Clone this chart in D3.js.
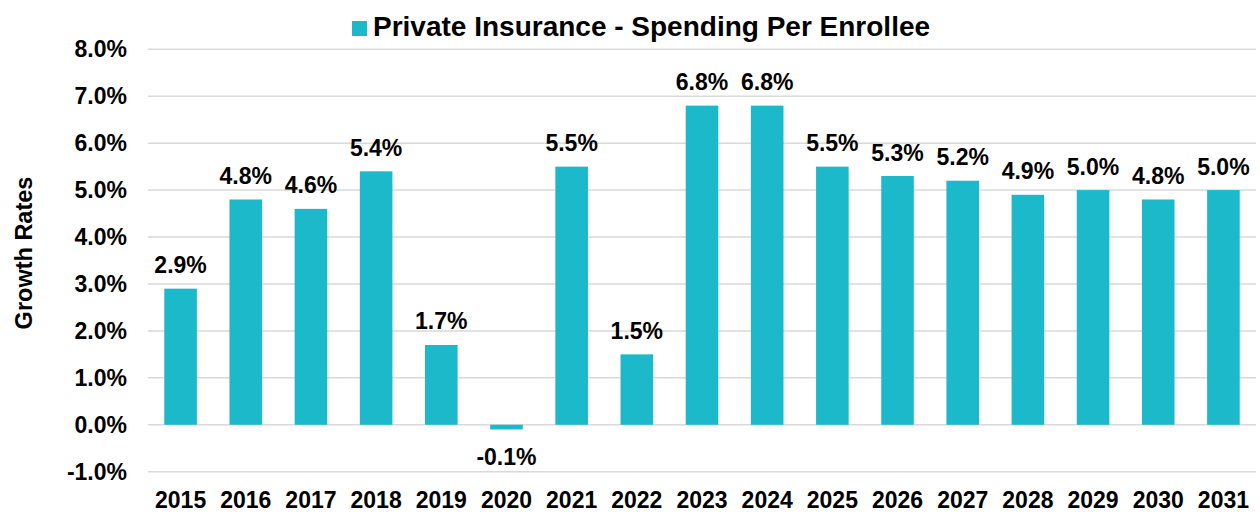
<!DOCTYPE html>
<html>
<head>
<meta charset="utf-8">
<script src="https://cdn.jsdelivr.net/npm/d3@7"></script>
<style>
  html, body { margin: 0; padding: 0; background: #fff; }
  svg { display: block; font-family: "Liberation Sans", Arial, sans-serif; font-weight: bold; }
</style>
</head>
<body>
<svg id="chart" width="1260" height="512"></svg>
<script>
// Private insurance spending growth per enrollee, by year
const years = ["2015","2016","2017","2018","2019","2020","2021","2022","2023","2024","2025","2026","2027","2028","2029","2030","2031"];
const growth = [2.9, 4.8, 4.6, 5.4, 1.7, -0.1, 5.5, 1.5, 6.8, 6.8, 5.5, 5.3, 5.2, 4.9, 5.0, 4.8, 5.0];
const yTicks = [-1, 0, 1, 2, 3, 4, 5, 6, 7, 8];
const seriesName = "Private Insurance - Spending Per Enrollee";
const axisTitle = "Growth Rates";

const barColor = "#1BB9CA";
const gridColor = "#D9D9D9";
const fontFamily = "Liberation Sans, Arial, sans-serif";

const svg = d3.select("#chart");
const margin = { left: 148, right: 4, top: 49.3, bottom: 40.3 };
const W = 1260, H = 512;

const x = d3.scaleBand()
  .domain(years)
  .range([margin.left, W - margin.right])
  .paddingInner(0.5)
  .paddingOuter(0.25);

const y = d3.scaleLinear()
  .domain([-1, 8])
  .range([H - margin.bottom, margin.top]);

// horizontal gridlines
svg.append("g")
  .selectAll("line")
  .data(yTicks)
  .join("line")
  .attr("x1", margin.left)
  .attr("x2", W - margin.right)
  .attr("y1", d => y(d))
  .attr("y2", d => y(d))
  .attr("stroke", gridColor)
  .attr("stroke-width", 1.5);

// y axis labels
const yAxis = d3.axisLeft(y)
  .tickValues(yTicks)
  .tickFormat(d => d.toFixed(1) + "%")
  .tickSize(0)
  .tickPadding(21);
svg.append("g")
  .attr("transform", `translate(${margin.left},0)`)
  .call(yAxis)
  .call(g => g.select(".domain").remove())
  .call(g => g.selectAll("text")
    .attr("font-family", fontFamily)
    .attr("font-weight", "bold")
    .attr("font-size", 23)
    .attr("fill", "#000"));

// x axis labels
const xAxis = d3.axisBottom(x).tickSize(0).tickPadding(0);
svg.append("g")
  .attr("transform", `translate(0,${y(-1)})`)
  .call(xAxis)
  .call(g => g.select(".domain").remove())
  .call(g => g.selectAll("text")
    .attr("dy", null)
    .attr("y", 36.5)
    .attr("font-family", fontFamily)
    .attr("font-weight", "bold")
    .attr("font-size", 23)
    .attr("fill", "#000"));

// bars
svg.append("g")
  .selectAll("rect")
  .data(growth)
  .join("rect")
  .attr("x", (d, i) => x(years[i]))
  .attr("width", x.bandwidth())
  .attr("y", d => y(Math.max(0, d)))
  .attr("height", d => Math.abs(y(d) - y(0)))
  .attr("fill", barColor);

// value labels
svg.append("g")
  .selectAll("text")
  .data(growth)
  .join("text")
  .attr("x", (d, i) => x(years[i]) + x.bandwidth() / 2)
  .attr("y", d => d >= 0 ? y(d) - 15.5 : y(d) + 35.6)
  .attr("text-anchor", "middle")
  .attr("font-size", 23)
  .attr("fill", "#000")
  .text(d => d.toFixed(1) + "%");

// y axis title
svg.append("text")
  .attr("transform", "translate(32,253) rotate(-90)")
  .attr("text-anchor", "middle")
  .attr("font-size", 23.5)
  .attr("fill", "#000")
  .text(axisTitle);

// legend
const legend = svg.append("g");
legend.append("rect")
  .attr("x", 352).attr("y", 21)
  .attr("width", 15).attr("height", 15)
  .attr("fill", barColor);
legend.append("text")
  .attr("x", 373).attr("y", 36)
  .attr("font-size", 28)
  .attr("fill", "#000")
  .text(seriesName);
</script>
</body>
</html>
